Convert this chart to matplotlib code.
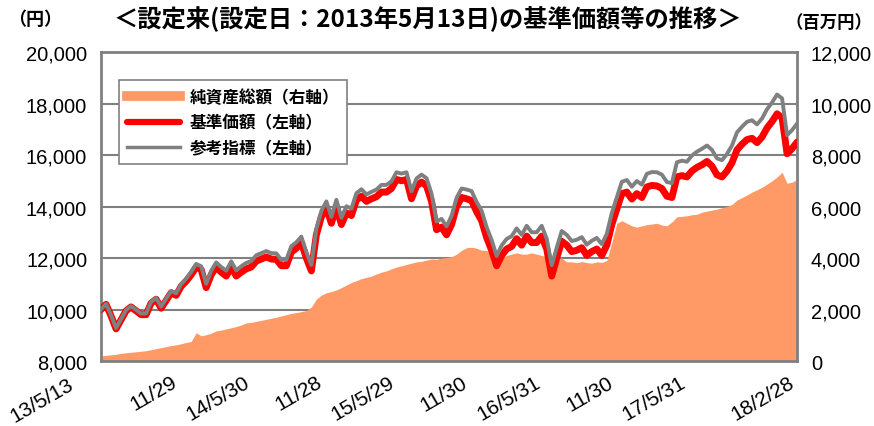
import pandas as pd
import matplotlib.pyplot as plt
import matplotlib.transforms as mtransforms
from matplotlib.lines import Line2D

plt.rcParams['font.family'] = ['Noto Sans CJK JP', 'DejaVu Sans']

nav = [10000, 10200, 9750, 9250, 9600, 9950, 10100, 9950, 9800, 9800,
       10250, 10400, 10050, 10350, 10650, 10550, 10900, 11100, 11350, 11650,
       11550, 10850, 11350, 11650, 11450, 11300, 11650, 11300, 11450, 11580,
       11650, 11880, 11960, 12040, 11960, 11950, 11700, 11700, 12230, 12380,
       12600, 12000, 11500, 12900, 13600, 13950, 13350, 14000, 13300, 13750,
       13650, 14250, 14400, 14200, 14300, 14380, 14560, 14560, 14700, 15050,
       15000, 15050, 14300, 14800, 14950, 14800, 14200, 13100, 13200, 12900,
       13300, 14000, 14350, 14300, 14230, 13800, 13450, 12800, 12300, 11700,
       12100, 12350, 12450, 12750, 12500, 12850, 12600, 12600, 12850, 12350,
       11300, 12000, 12650, 12500, 12250, 12300, 12400, 12100, 12250, 12350,
       12100, 12500, 13300, 13900, 14500, 14560, 14290, 14500, 14350, 14760,
       14820, 14800, 14700, 14400, 14350, 15150, 15200, 15150, 15380, 15520,
       15620, 15750, 15570, 15230, 15150, 15380, 15700, 16200, 16420, 16600,
       16650, 16480, 16700, 17050, 17300, 17600, 17450, 16050, 16250, 16500]

bench = [10000, 10220, 9780, 9280, 9630, 9980, 10130, 9990, 9840, 9850,
         10300, 10450, 10110, 10420, 10720, 10630, 10990, 11200, 11460, 11770,
         11680, 11000, 11510, 11830, 11650, 11510, 11870, 11520, 11680, 11810,
         11880, 12110, 12190, 12270, 12190, 12180, 11930, 11930, 12460, 12610,
         12830, 12230, 11730, 13130, 13830, 14200, 13600, 14260, 13560, 14010,
         13920, 14520, 14670, 14470, 14570, 14660, 14840, 14840, 14980, 15330,
         15280, 15330, 14590, 15090, 15240, 15100, 14500, 13420, 13520, 13230,
         13640, 14340, 14700, 14660, 14600, 14180, 13840, 13200, 12700, 12080,
         12490, 12740, 12850, 13150, 12900, 13250, 13000, 13000, 13250, 12750,
         11720, 12400, 13050, 12900, 12660, 12710, 12810, 12520, 12670, 12780,
         12540, 12940, 13750, 14360, 14960, 15030, 14770, 14990, 14850, 15270,
         15340, 15330, 15240, 14950, 14910, 15720, 15780, 15740, 15980, 16130,
         16240, 16370, 16200, 15870, 15800, 16040, 16370, 16880, 17100, 17290,
         17350, 17190, 17420, 17780, 18040, 18350, 18200, 16770, 16970, 17220]

assets = [200, 220, 240, 260, 300, 320, 340, 360, 380, 400,
          440, 480, 520, 560, 600, 630, 670, 720, 760, 1100,
          980, 1020, 1080, 1170, 1200, 1250, 1290, 1340, 1400, 1480,
          1500, 1540, 1580, 1620, 1660, 1700, 1750, 1800, 1850, 1880,
          1920, 1960, 2100, 2400, 2560, 2650, 2700, 2760, 2850, 2950,
          3050, 3120, 3200, 3250, 3300, 3380, 3450, 3500, 3580, 3650,
          3700, 3750, 3800, 3850, 3870, 3920, 3960, 3950, 4000, 4020,
          4050, 4150, 4300, 4400, 4420, 4380, 4300, 4300, 4150, 4050,
          4000, 4100, 4150, 4200, 4150, 4150, 4200, 4150, 4100, 4050,
          3900, 3950, 4000, 3850, 3850, 3820, 3860, 3820, 3800, 3850,
          3830, 3900, 4600, 5350, 5450, 5350, 5250, 5200, 5250, 5300,
          5320, 5350, 5280, 5250, 5400, 5600, 5620, 5640, 5680, 5700,
          5780, 5820, 5860, 5900, 5950, 6000, 6080, 6250, 6350, 6450,
          6560, 6650, 6750, 6870, 7000, 7150, 7330, 6900, 6950, 7050]

dates = pd.date_range('2013-05-13', '2018-02-28', periods=len(nav))

tick_dates = pd.to_datetime(['2013-05-13', '2013-11-29', '2014-05-30', '2014-11-28',
                             '2015-05-29', '2015-11-30', '2016-05-31', '2016-11-30',
                             '2017-05-31', '2018-02-28'])
tick_labels = ['13/5/13', '11/29', '14/5/30', '11/28', '15/5/29', '11/30',
               '16/5/31', '11/30', '17/5/31', '18/2/28']

orange = '#FF9966'
grey = '#808080'
num_font = 'Liberation Sans'

fig = plt.figure(figsize=(8.74, 4.27), dpi=100)
ax = fig.add_axes([0.1156, 0.1522, 0.7964, 0.7236])

# net assets (right scale) on the bottom axes so the lines sit on top
ax.fill_between(dates, assets, 0, color=orange, lw=0, zorder=2)
ax.set_ylim(0, 12000)
ax.grid(axis='y', color=grey, lw=1.5, zorder=1)
ax.set_axisbelow(True)
ax.set_xlim(dates[0], dates[-1])
ax.set_xticks(tick_dates)
ax.set_xticklabels(tick_labels, rotation=30, ha='right', fontfamily=num_font, fontsize=15)
ax.tick_params(axis='x', direction='in', length=4, color='#B0B0B0', pad=8)
# first date label sits further left, as in the original
first = ax.get_xticklabels()[0]
first.set_transform(first.get_transform() + mtransforms.ScaledTranslation(-0.24, -0.02, fig.dpi_scale_trans))
for s in ax.spines.values():
    s.set_color(grey)
    s.set_linewidth(2)

ax2 = ax.twinx()
ax2.plot(dates, nav, color='red', lw=5, solid_capstyle='round', solid_joinstyle='round', zorder=3)
ax2.plot(dates, bench, color=grey, lw=2.8, zorder=4)
ax2.set_ylim(8000, 20000)
ax2.set_yticks(range(8000, 20001, 2000))
ax2.set_yticklabels([f'{v:,}' for v in range(8000, 20001, 2000)], fontfamily=num_font, fontsize=14.5)
ax2.yaxis.tick_left()
ax2.tick_params(axis='y', length=0, pad=10)
for s in ax2.spines.values():
    s.set_visible(False)

# twinx moves the first axes' ticks to the left, so put them back on the right
ax.yaxis.tick_right()
ax.set_yticks(range(0, 12001, 2000))
ax.set_yticklabels([f'{v:,}' for v in range(0, 12001, 2000)], fontfamily=num_font, fontsize=14.5)
ax.tick_params(axis='y', length=0, pad=10)

handles = [Line2D([], [], color=orange, lw=7),
           Line2D([], [], color='red', lw=4.5, solid_capstyle='round'),
           Line2D([], [], color=grey, lw=2.5)]
labels = ['純資産総額（右軸）', '基準価額（左軸）', '参考指標（左軸）']
leg = ax2.legend(handles, labels, loc='upper left', bbox_to_anchor=(0.014, 0.935),
                 fancybox=False, edgecolor=grey, framealpha=1, handlelength=3.2,
                 handletextpad=0.6, prop={'size': 12, 'weight': 'bold'},
                 labelspacing=0.45, borderpad=0.45)
leg.get_frame().set_linewidth(1.2)

fig.text(0.49, 0.955, '＜設定来(設定日：2013年5月13日)の基準価額等の推移＞',
         ha='center', va='center', fontsize=17.5, fontweight='bold')
fig.text(0.04, 0.955, '（円）', ha='center', va='center', fontsize=13, fontweight='bold')
fig.text(0.948, 0.945, '（百万円）', ha='center', va='center', fontsize=12.5, fontweight='bold')

fig.savefig('out.png', dpi=100)
